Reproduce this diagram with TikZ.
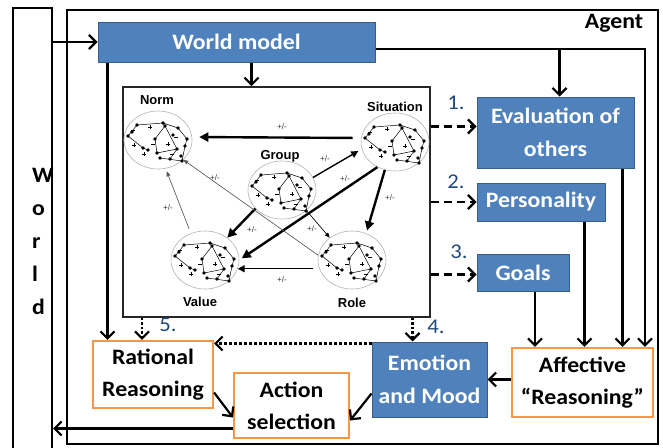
\documentclass[tikz,border=0pt]{standalone}
\usepackage{fontspec}
\setmainfont{Carlito}[FakeStretch=1.08]
\newfontfamily\netfont{Liberation Sans}
\usepackage{tikz}
\usetikzlibrary{arrows.meta, shapes.geometric}
\definecolor{boxblue}{RGB}{79,129,189}
\definecolor{boxedge}{RGB}{56,93,138}
\definecolor{boxorange}{RGB}{247,150,70}
\definecolor{numblue}{RGB}{31,73,125}

\tikzset{
  net/.pic={
    \draw[line width=0.5pt] (-30,-4) -- (-21,-15) -- (5,-17) -- (20,-12) -- (29,-1) -- (27,6) -- (24,21) -- (2,18);
    \draw[line width=0.5pt] (-3,-1) -- (7,-14) -- (19,9) -- (-1,13) -- cycle;
    \draw[line width=0.5pt] (-30,-4) -- (-15,8) -- (-10,10) (5,-17) -- (7,-14) (12,19) -- (19,9);
    \foreach \p in {(-21,-15),(-30,-4),(-15,8),(-10,10),(5,-17),(7,-14),(20,-12),(29,-1),(27,6),
                    (-3,-1),(-1,13),(19,9),(24,21),(2,18),(12,19),(15,-5),(-26,-8),(23,16)}
      \fill \p circle[radius=1.8pt];
    \foreach \x/\y in {-8/-13,10/4,-14/14,-24/5}
      \draw[line width=0.5pt] (\x-1.8,\y) -- (\x+1.8,\y) (\x,\y-1.8) -- (\x,\y+1.8);
    \foreach \x/\y in {18/-3,-25/-10,14/14,-5/4}
      \draw[line width=0.5pt] (\x-1.8,\y) -- (\x+1.8,\y);
  }
}

\begin{document}
\begin{tikzpicture}[
    x=1pt, y=-1pt,
    >={Straight Barb[length=7pt,width=14pt]},
    conn/.style={line width=2.2pt, ->},
    dashconn/.style={conn, dash pattern=on 8pt off 5pt},
    shortconn/.style={conn, dash pattern=on 2.5pt off 2pt},
    bluebox/.style={draw=boxedge, fill=boxblue, line width=1pt, text=white, align=center, inner sep=0pt,
        font=\bfseries\fontsize{22}{33}\selectfont},
    orangebox/.style={draw=boxorange, fill=white, line width=2.2pt, align=center, inner sep=0pt,
        font=\bfseries\fontsize{22}{32}\selectfont},
    ring/.style={ellipse, draw=gray!60, line width=0.6pt, minimum width=68pt, minimum height=58pt, inner sep=0pt},
    netlabel/.style={font=\netfont\bfseries\fontsize{13}{13}\selectfont},
    pmlbl/.style={font=\netfont\fontsize{8}{8}\selectfont, text=gray!40!black},
    numlbl/.style={font=\fontsize{21}{21}\selectfont, text=numblue},
    netthick/.style={line width=2.4pt, -{Triangle[length=9pt,width=9pt]}},
    netmid/.style={line width=1.4pt, -{Triangle[length=7pt,width=7pt]}},
    netthin/.style={line width=0.6pt, draw=gray!70!black, -{Triangle[length=5pt,width=4pt]}, fill=gray!70!black},
]
    \useasboundingbox (0,0) rectangle (663,447);

    % outer frames
    \node[draw, line width=2.2pt, minimum width=39pt, minimum height=450pt] (world) at (32.5,233) {};
    \node[draw, line width=2.2pt, minimum width=591pt, minimum height=434pt] (agent) at (362.5,227) {};
    \node[font=\bfseries\fontsize{22}{33}\selectfont, align=left, anchor=west, inner sep=0pt] (worldlbl) at (32,241) {W\\o\\r\\l\\d};
    \node[font=\bfseries\fontsize{22}{22}\selectfont] (agentlbl) at (614,23) {Agent};

    % boxes
    \node[bluebox, minimum width=277pt, minimum height=40pt] (wmodel) at (236.5,42) {World model};
    \node[bluebox, minimum width=157pt, minimum height=71pt] (evalbox) at (555.5,132.5) {Evaluation of\\others};
    \node[bluebox, minimum width=128pt, minimum height=38pt] (persbox) at (541,202) {Personality};
    \node[bluebox, minimum width=92pt, minimum height=37pt] (goalbox) at (523,272.5) {Goals};
    \node[bluebox, minimum width=115pt, minimum height=75pt] (emobox) at (429.5,379.5) {Emotion\\and Mood};
    \node[orangebox, minimum width=141pt, minimum height=69pt] (affbox) at (582.5,382.5) {Affective\\``Reasoning''};
    \node[orangebox, minimum width=120pt, minimum height=67pt] (ratbox) at (153,374.5) {Rational\\Reasoning};
    \node[orangebox, minimum width=115pt, minimum height=65pt] (actbox) at (291.5,405.5) {Action\\selection};

    % social network
    \node[draw=gray!30!black, line width=1.6pt, minimum width=307pt, minimum height=230pt] (netbox) at (276.5,202) {};
    \node[ring] (norm) at (158,140) {};
    \node[ring] (sit) at (395,142) {};
    \node[ring] (group) at (282,190) {};
    \node[ring] (value) at (205,260) {};
    \node[ring] (role) at (352,260) {};
    \foreach \c in {norm,sit,group,value,role}
      \pic at (\c) {net};
    \node[netlabel] (normlbl) at (157,100) {Norm};
    \node[netlabel] (sitlbl) at (395,107) {Situation};
    \node[netlabel] (grouplbl) at (280,156) {Group};
    \node[netlabel] (valuelbl) at (200,302) {Value};
    \node[netlabel] (rolelbl) at (352,303) {Role};

    \draw[netthick, shorten <=8pt, shorten >=7pt] ([yshift=4pt]sit.west) -- ([yshift=3pt]norm.east);
    \draw[netmid, shorten >=4pt] (group.22) -- (sit.192);
    \draw[netthick, shorten >=3pt] (sit.235) -- (value.0);
    \draw[netthick, shorten >=3pt] (sit.250) -- (role.62);
    \draw[netthick] (group.215) -- (value.45);
    \draw[netthin, draw=black, fill=black] (group.320) -- (role.135);
    \draw[netmid, shorten <=6pt] (role.195) -- (value.345);
    \draw[netthin, shorten <=5pt, shorten >=3pt] (value.118) -- (norm.285);
    \draw[netthin] (role.172) -- (norm.322);
    \foreach \x/\y [count=\i] in {282/127,325/159,345/179,390/198,252/230,312/229,282/280,168/208,215/178}
      \node[pmlbl] (pm\i) at (\x,\y) {+/-};

    % connectors
    \draw[conn] (world.east |- wmodel.west) -- (wmodel.west);
    \draw[conn] ([xshift=15pt]wmodel.south) -- ([xshift=15pt]wmodel.south |- netbox.north);
    \coordinate (wmcorner) at (645,49);
    \draw[conn] ([yshift=-7pt]wmodel.east) -- (wmcorner) -- (wmcorner |- affbox.north);
    \draw[conn] ([xshift=4pt]evalbox.north |- wmcorner) -- ([xshift=4pt]evalbox.north);
    \draw[conn] ([xshift=10pt]wmodel.south west) -- ([xshift=10pt]wmodel.south west |- ratbox.north);

    \draw[dashconn] ([yshift=6pt]evalbox.west -| netbox.east) -- ([yshift=6pt]evalbox.west);
    \draw[dashconn] (persbox.west -| netbox.east) -- (persbox.west);
    \draw[dashconn] ([yshift=-2pt]goalbox.west -| netbox.east) -- ([yshift=-2pt]goalbox.west);
    \draw[shortconn] ([xshift=-17pt]emobox.north |- netbox.south) -- ([xshift=-17pt]emobox.north);
    \draw[shortconn] ([xshift=-11pt]ratbox.north |- netbox.south) -- ([xshift=-11pt]ratbox.north);
    \node[numlbl] (num1) at (456,103) {1.};
    \node[numlbl] (num2) at (456,182) {2.};
    \node[numlbl] (num3) at (459,252) {3.};
    \node[numlbl] (num4) at (436,327) {4.};
    \node[numlbl] (num5) at (168,325) {5.};

    \draw[conn, dash pattern=on 2.5pt off 2.5pt] ([yshift=-2pt]emobox.north west) -- ([yshift=-2pt]emobox.north west -| ratbox.east);
    \draw[conn] ([xshift=12pt]goalbox.south) -- ([xshift=12pt]goalbox.south |- affbox.north);
    \draw[conn] ([xshift=-21pt]persbox.south east) -- ([xshift=-21pt]persbox.south east |- affbox.north);
    \draw[conn] ([xshift=-12pt]evalbox.south east) -- ([xshift=-12pt]evalbox.south east |- affbox.north);
    \draw[conn] (affbox.west |- emobox.east) -- (emobox.east);
    \draw[conn] ([yshift=-14pt]emobox.west) -- ([yshift=-15pt]actbox.east);
    \draw[conn] ([yshift=-18pt]ratbox.east) -- ([yshift=-12pt]actbox.west);
    \draw[conn] ([yshift=-23pt]actbox.west) -- ([yshift=-23pt]actbox.west -| world.east);
\end{tikzpicture}
\end{document}
